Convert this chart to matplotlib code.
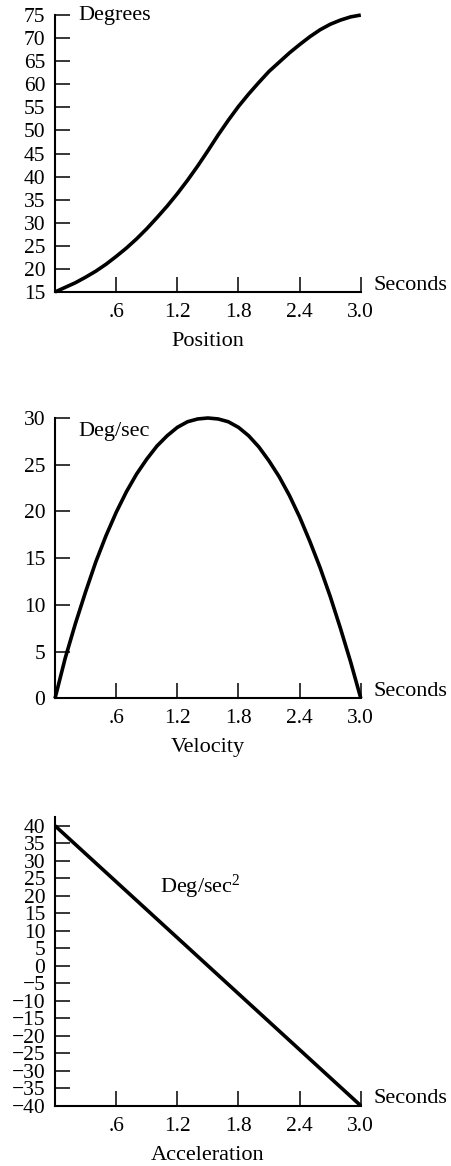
import matplotlib
matplotlib.use('Agg')
import matplotlib.pyplot as plt

plt.rcParams['font.family'] = 'Liberation Serif'
plt.rcParams['mathtext.fontset'] = 'custom'
plt.rcParams['mathtext.rm'] = 'Liberation Serif'
plt.rcParams['mathtext.default'] = 'rm'
plt.rcParams['axes.unicode_minus'] = True

# time samples (seconds)
t = [0.0, 0.1, 0.2, 0.3, 0.4, 0.5, 0.6, 0.7, 0.8, 0.9, 1.0,
     1.1, 1.2, 1.3, 1.4, 1.5, 1.6, 1.7, 1.8, 1.9, 2.0,
     2.1, 2.2, 2.3, 2.4, 2.5, 2.6, 2.7, 2.8, 2.9, 3.0]

# joint angle, degrees
position = [15.0, 16.0, 17.0, 18.2, 19.5, 21.0, 22.7, 24.5, 26.5, 28.7, 31.1,
            33.6, 36.3, 39.2, 42.3, 45.6, 49.0, 52.2, 55.2, 57.9, 60.4,
            62.8, 64.8, 66.8, 68.6, 70.3, 71.8, 73.0, 73.9, 74.6, 75.0]

# angular velocity, deg/sec
velocity = [0.0, 4.3, 8.0, 11.4, 14.6, 17.4, 19.9, 22.1, 24.0, 25.6, 27.0,
            28.1, 29.0, 29.6, 29.9, 30.0, 29.9, 29.6, 29.0, 28.1, 26.9,
            25.4, 23.7, 21.7, 19.4, 16.8, 14.0, 10.9, 7.5, 3.9, 0.0]

# angular acceleration, deg/sec^2
t_acc = [0.0, 0.6, 1.2, 1.8, 2.4, 3.0]
acceleration = [40, 24, 8, -8, -24, -40]

x_ticks = [0.6, 1.2, 1.8, 2.4, 3.0]
x_labels = ['.6', '1.2', '1.8', '2.4', '3.0']

TICK_FS = 15.5
LABEL_FS = 16


def style_axes(ax, ymin, ymax, ystep, ytop, xlabel):
    ax.set_xlim(0, 3.0)
    ax.set_ylim(ymin, ytop)
    ax.spines['top'].set_visible(False)
    ax.spines['right'].set_visible(False)
    ax.spines['left'].set_linewidth(1.5)
    ax.spines['bottom'].set_linewidth(1.5)
    ax.set_xticks(x_ticks)
    ax.set_xticklabels(x_labels)
    ax.set_yticks(list(range(ymin, ymax + 1, ystep)))
    ax.tick_params(axis='both', direction='in', length=11, width=1.1,
                   labelsize=TICK_FS)
    ax.tick_params(axis='x', pad=8)
    ax.tick_params(axis='y', pad=7)
    ax.set_xlabel(xlabel, fontsize=LABEL_FS, labelpad=7)
    ax.annotate('Seconds', xy=(3.0, ymin), xytext=(9, 5),
                textcoords='offset points', fontsize=LABEL_FS,
                ha='left', va='center', annotation_clip=False)


fig = plt.figure(figsize=(4.51, 11.66), dpi=100)

# Position
ax1 = fig.add_axes([0.122, 0.7496, 0.678, 0.2375])
ax1.plot(t, position, color='black', lw=2.6, clip_on=False,
         solid_capstyle='butt')
style_axes(ax1, 15, 75, 5, 75, 'Position')
ax1.text(0.225, 75, 'Degrees', fontsize=LABEL_FS, ha='left', va='center')

# Velocity
ax2 = fig.add_axes([0.122, 0.4011, 0.678, 0.2404])
ax2.plot(t, velocity, color='black', lw=2.6, clip_on=False,
         solid_capstyle='butt')
style_axes(ax2, 0, 30, 5, 30, 'Velocity')
ax2.text(0.225, 28.6, 'Deg/sec', fontsize=LABEL_FS, ha='left', va='center')

# Acceleration
ax3 = fig.add_axes([0.122, 0.0517, 0.678, 0.2476])
ax3.plot(t_acc, acceleration, color='black', lw=2.6, clip_on=False,
         solid_capstyle='butt')
style_axes(ax3, -40, 40, 5, 42.5, 'Acceleration')
ax3.text(1.03, 22.4, 'Deg/sec$^2$', fontsize=LABEL_FS, ha='left', va='center')

fig.savefig('out.png', dpi=100)
